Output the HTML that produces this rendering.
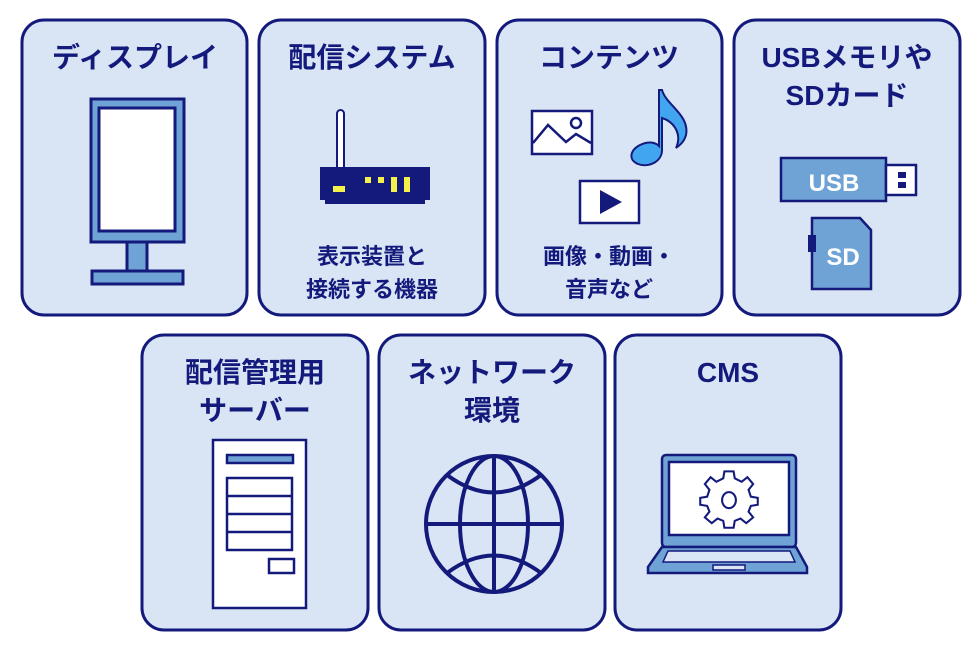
<!DOCTYPE html>
<html><head><meta charset="utf-8"><style>
html,body{margin:0;padding:0;background:#fff;}
svg{display:block}
text{font-family:"Liberation Sans","Noto Sans CJK JP",sans-serif;font-weight:bold;fill:#141a7c;text-anchor:middle}
</style></head><body>
<svg width="980" height="653" viewBox="0 0 980 653">
<g fill="#d9e5f5" stroke="#141a7c" stroke-width="3">
<rect x="22" y="20" width="225" height="295" rx="22"/>
<rect x="259" y="20" width="226" height="295" rx="22"/>
<rect x="497" y="20" width="225" height="295" rx="22"/>
<rect x="734" y="20" width="226" height="295" rx="22"/>
<rect x="142" y="335" width="226" height="295" rx="22"/>
<rect x="379" y="335" width="226" height="295" rx="22"/>
<rect x="615" y="335" width="226" height="295" rx="22"/>
</g>
<g font-size="28">
<text x="135" y="67">ディスプレイ</text>
<text x="372" y="67">配信システム</text>
<text x="609" y="67">コンテンツ</text>
<text x="847" y="67">USBメモリや</text>
<text x="847" y="105">SDカード</text>
<text x="255" y="382">配信管理用</text>
<text x="255" y="420">サーバー</text>
<text x="492" y="382">ネットワーク</text>
<text x="492" y="420">環境</text>
<text x="728" y="382">CMS</text>
</g>
<g font-size="22">
<text x="372" y="264">表示装置と</text>
<text x="372" y="297">接続する機器</text>
<text x="609" y="264">画像・動画・</text>
<text x="609" y="297">音声など</text>
</g>
<!-- display -->
<g stroke="#141a7c" stroke-width="3">
<rect x="91" y="99" width="93" height="143" fill="#6fa3d5"/>
<rect x="99" y="108" width="76" height="123" fill="#fff"/>
<rect x="127" y="242" width="20" height="29" fill="#6fa3d5"/>
<rect x="92" y="271" width="91" height="13" fill="#6fa3d5"/>
</g>
<!-- router -->
<rect x="337" y="110" width="7" height="60" rx="3.5" fill="#fff" stroke="#141a7c" stroke-width="2"/>
<rect x="320" y="167" width="110" height="33" fill="#141a7c"/>
<rect x="325" y="198" width="100" height="6" fill="#141a7c"/>
<g fill="#f4f24a">
<rect x="333" y="186" width="12" height="6"/><rect x="365" y="177" width="6" height="6"/><rect x="378" y="177" width="6" height="6"/><rect x="391" y="177" width="6" height="15"/><rect x="404" y="177" width="6" height="15"/>
</g>
<!-- contents -->
<g stroke="#141a7c" stroke-width="2.5">
<rect x="532" y="111" width="60" height="43" fill="#fff"/>
<polyline points="533,143 548,125 566,142 576,134 591,143" fill="none"/>
<circle cx="576" cy="123" r="5" fill="none"/>
<rect x="580" y="181" width="59" height="42" fill="#fff"/>
</g>
<polygon points="600,190 600,214 622,202" fill="#141a7c"/>
<path d="M659,90 L662,90 C666,105 690,115 686,135 C684,142 680,145 676,148 C682,135 675,122 662,118 L662,150 C662,162 648,168 638,164 C628,160 630,150 640,145 C648,141 655,142 659,146 Z" fill="#42a5f0" stroke="#141a7c" stroke-width="2"/>
<!-- USB -->
<g stroke="#141a7c" stroke-width="2.5">
<rect x="781" y="158" width="105" height="43" fill="#6fa3d5"/>
<rect x="886" y="165" width="30" height="30" fill="#fff"/>
<path d="M812,218 L860,218 L871,230 L871,289 L812,289 Z" fill="#6fa3d5"/>
</g>
<rect x="898" y="172" width="8" height="6" fill="#141a7c"/><rect x="898" y="182" width="8" height="6" fill="#141a7c"/>
<rect x="808" y="235" width="8" height="17" fill="#141a7c"/>
<text x="834" y="191" font-size="24" style="fill:#fff">USB</text>
<text x="843" y="265" font-size="24" style="fill:#fff">SD</text>
<!-- server -->
<g stroke="#141a7c" stroke-width="2.5">
<rect x="213" y="440" width="93" height="168" fill="#fff"/>
<rect x="227" y="455" width="66" height="8" fill="#6fa3d5"/>
<rect x="227" y="478" width="65" height="72" fill="#fff"/>
<line x1="227" y1="496" x2="292" y2="496"/><line x1="227" y1="514" x2="292" y2="514"/><line x1="227" y1="532" x2="292" y2="532"/>
<rect x="269" y="559" width="25" height="14" fill="#fff"/>
</g>
<!-- globe -->
<g stroke="#141a7c" stroke-width="4" fill="none">
<ellipse cx="494" cy="524" rx="68" ry="68"/>
<ellipse cx="494" cy="524" rx="34" ry="68"/>
<line x1="494" y1="456" x2="494" y2="592"/>
<line x1="426" y1="524" x2="562" y2="524"/>
<path d="M447,475 Q494,510 541,475"/>
<path d="M447,573 Q494,538 541,573"/>
</g>
<!-- laptop -->
<g stroke="#141a7c" stroke-width="2.5">
<rect x="662" y="455" width="134" height="92" rx="4" fill="#6fa3d5"/>
<rect x="669" y="462" width="120" height="73" fill="#fff"/>
<path d="M662,547 L796,547 L807,567 L807,573 L648,573 L648,567 Z" fill="#6fa3d5"/>
<path d="M668,551 L790,551 L795,562 L663,562 Z" fill="#d9e5f5" stroke-width="1.5"/>
<rect x="713" y="565" width="32" height="5" fill="#d9e5f5" stroke-width="1.5"/>
</g>
<g transform="translate(729,499) scale(1.15)" stroke="#141a7c" stroke-width="1.8" fill="#fff">
<path d="M-4,-23 L4,-23 L5,-17 L11,-14 L16,-18 L21,-12 L17,-7 L19,-1 L25,0 L25,6 L19,7 L17,12 L21,17 L15,22 L10,18 L5,20 L4,26 L-4,26 L-5,20 L-10,18 L-15,22 L-21,17 L-17,12 L-19,7 L-25,6 L-25,0 L-19,-1 L-17,-7 L-21,-12 L-16,-18 L-11,-14 L-5,-17 Z" transform="translate(0,-1)"/>
<ellipse cx="0" cy="1" rx="6" ry="7"/>
</g>
</svg>
</body></html>
